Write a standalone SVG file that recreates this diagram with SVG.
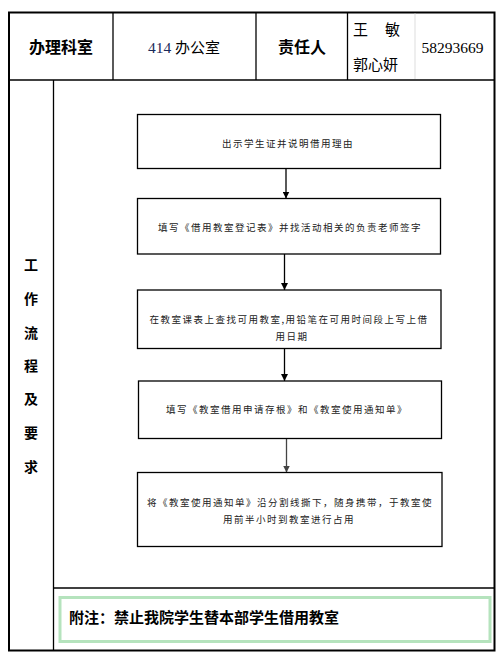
<svg xmlns="http://www.w3.org/2000/svg" width="503" height="659" viewBox="0 0 503 659">
<defs>
<style>
.frame{fill:none;stroke:#000;stroke-width:2}
.thin{fill:none;stroke:#000;stroke-width:1.3}
.box{fill:#fff;stroke:#000;stroke-width:1.3}
.hb{font-family:"Noto Sans CJK SC",sans-serif;font-weight:bold;font-size:16px;fill:#000}
.hn{font-family:"Liberation Serif","Noto Sans CJK SC",serif;font-size:15.5px;fill:#000}
.vt{font-family:"Noto Sans CJK SC",sans-serif;font-weight:bold;font-size:14px;fill:#000}
.bt{font-family:"Noto Sans CJK SC",sans-serif;font-size:9.5px;letter-spacing:1.5px;fill:#222}
.ft{font-family:"Noto Sans CJK SC",sans-serif;font-weight:bold;font-size:15px;fill:#000}
.conn{stroke:#000;stroke-width:1.3;fill:none}
</style>
<marker id="ah" markerUnits="userSpaceOnUse" markerWidth="7" markerHeight="7" refX="7" refY="3.5" orient="auto">
<path d="M0,0 L7,3.5 L0,7 z" fill="#000"/>
</marker>
<marker id="ahg" markerUnits="userSpaceOnUse" markerWidth="7" markerHeight="7" refX="7" refY="3.5" orient="auto">
<path d="M0,0 L7,3.5 L0,7 z" fill="#444"/>
</marker>
</defs>
<rect width="503" height="659" fill="#fff"/>
<g id="table">
<rect class="frame" x="9" y="12.5" width="485.5" height="638"/>
<line class="thin" x1="9" y1="80" x2="494.5" y2="80"/>
<line class="thin" x1="113" y1="12.5" x2="113" y2="80"/>
<line class="thin" x1="256" y1="12.5" x2="256" y2="80"/>
<line class="thin" x1="347.5" y1="12.5" x2="347.5" y2="80"/>
<line x1="415" y1="13.5" x2="415" y2="79" stroke="#ddd" stroke-width="1"/>
<line class="thin" x1="53.5" y1="80" x2="53.5" y2="650.5"/>
<line class="thin" x1="53.5" y1="588" x2="494.5" y2="588"/>
</g>
<g id="header">
<text class="hb" x="61" y="53" text-anchor="middle">办理科室</text>
<text class="hn" x="184" y="53" text-anchor="middle"><tspan fill="#1a2a5a">414</tspan> <tspan font-family="Noto Sans CJK SC,sans-serif" font-size="15px">办公室</tspan></text>
<text class="hb" x="302" y="53" text-anchor="middle">责任人</text>
<text x="353" y="35" font-family="Noto Sans CJK SC,sans-serif" font-size="15px">王<tspan x="385">敏</tspan></text>
<text x="353" y="70" font-family="Noto Sans CJK SC,sans-serif" font-size="15px">郭心妍</text>
<text class="hn" x="452.5" y="53" text-anchor="middle" fill="#1a2a5a">58293669</text>
</g>
<g id="side-label">
<text class="vt" x="31" y="270" text-anchor="middle">工</text>
<text class="vt" x="31" y="304" text-anchor="middle">作</text>
<text class="vt" x="31" y="338" text-anchor="middle">流</text>
<text class="vt" x="31" y="371" text-anchor="middle">程</text>
<text class="vt" x="31" y="404" text-anchor="middle">及</text>
<text class="vt" x="31" y="438" text-anchor="middle">要</text>
<text class="vt" x="31" y="472" text-anchor="middle">求</text>
</g>
<g id="connectors">
<line class="conn" x1="286" y1="168.5" x2="286" y2="198.5" marker-end="url(#ah)"/>
<line class="conn" x1="284.5" y1="254" x2="284.5" y2="290" marker-end="url(#ah)"/>
<line class="conn" x1="284.5" y1="348.5" x2="284.5" y2="381" marker-end="url(#ah)"/>
<line x1="286.5" y1="438.5" x2="286.5" y2="472.5" stroke="#444" stroke-width="1.3" marker-end="url(#ahg)"/>
</g>
<g id="step1">
<rect class="box" x="137.5" y="114.5" width="303" height="54"/>
<text class="bt" x="288" y="147" text-anchor="middle">出示学生证并说明借用理由</text>
</g>
<g id="step2">
<rect class="box" x="137.5" y="198.5" width="303" height="55.5"/>
<text class="bt" x="290" y="230.5" text-anchor="middle">填写《借用教室登记表》并找活动相关的负责老师签字</text>
</g>
<g id="step3">
<rect class="box" x="137.5" y="290" width="303.5" height="58.5"/>
<text class="bt" x="289" y="323" text-anchor="middle">在教室课表上查找可用教室,用铅笔在可用时间段上写上借</text>
<text class="bt" x="292" y="340" text-anchor="middle">用日期</text>
</g>
<g id="step4">
<rect class="box" x="138.5" y="381" width="303" height="57.5"/>
<text class="bt" x="287" y="413" text-anchor="middle">填写《教室借用申请存根》和《教室使用通知单》</text>
</g>
<g id="step5">
<rect class="box" x="137.5" y="472.5" width="304.5" height="74"/>
<text class="bt" x="290" y="506" text-anchor="middle">将《教室使用通知单》沿分割线撕下，随身携带，于教室使</text>
<text class="bt" x="289" y="523" text-anchor="middle">用前半小时到教室进行占用</text>
</g>
<g id="note">
<rect x="60" y="597.5" width="430" height="44" fill="none" stroke="#b5e3bd" stroke-width="3"/>
<text class="ft" x="69" y="623">附注：禁止我院学生替本部学生借用教室</text>
</g>
</svg>
